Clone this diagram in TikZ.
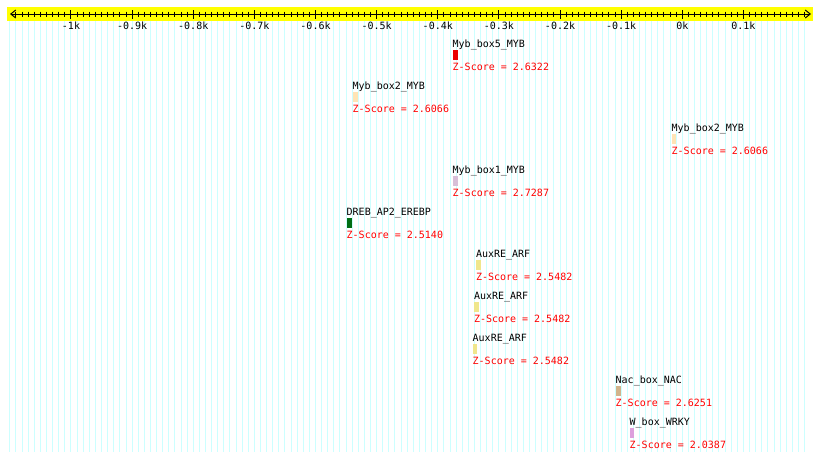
\documentclass[tikz,border=0pt]{standalone}
\usepackage{fontspec}
\setmonofont{DejaVu Sans Mono}
\usetikzlibrary{arrows.meta}
\definecolor{gridc}{RGB}{204,255,255}
\definecolor{axisbg}{RGB}{255,255,0}
\definecolor{zred}{RGB}{255,0,0}
\definecolor{cRed}{RGB}{235,0,0}
\definecolor{cPeach}{RGB}{255,228,181}
\definecolor{cThistle}{RGB}{216,191,216}
\definecolor{cDGreen}{RGB}{0,110,20}
\definecolor{cKhaki}{RGB}{240,230,140}
\definecolor{cTan}{RGB}{210,180,140}
\definecolor{cPlum}{RGB}{221,160,221}
\begin{document}
\begin{tikzpicture}[x=1pt,y=-1pt,
  txt/.style={font=\ttfamily\fontsize{10}{12}\selectfont, inner sep=0pt, outer sep=0pt},
  lbl/.style={txt, text=black, anchor=base west},
  zsc/.style={txt, text=zred, anchor=base west},
  ticklbl/.style={txt, text=black, anchor=base},
  motif/.style={fill=#1, draw=none, inner sep=0pt, minimum height=10.3pt, anchor=north west},
  gridline/.style={draw=gridc, line width=1pt},
  axisline/.style={line width=1pt, {Straight Barb[length=5pt,width=8pt]}-{Straight Barb[length=5pt,width=8pt]}},
  minortick/.style={line width=1pt},
  majortick/.style={line width=1pt}
]
\useasboundingbox (0,0) rectangle (820,461);
\fill[white] (0,0) rectangle (820,461);
% grid
\foreach \k in {-110,...,20}
  \draw[gridline] ({682.3+6.113*\k},21) -- ({682.3+6.113*\k},452);
% axis band
\fill[axisbg] (7,7) rectangle (813,21);
\coordinate (axL) at (10,14);
\coordinate (axR) at (811,14);
\draw[axisline] (axL) -- (axR);
\foreach \k in {-109,...,20}
  \draw[minortick] ({682.3+6.113*\k},11.5) -- ++(0,5);
\foreach \k in {-100,-90,...,10}
  \draw[majortick] ({682.3+6.113*\k},10) -- ++(0,8.5);
\foreach \k/\t [count=\n] in {-100/-1k,-90/-0.9k,-80/-0.8k,-70/-0.7k,-60/-0.6k,-50/-0.5k,-40/-0.4k,-30/-0.3k,-20/-0.2k,-10/-0.1k,0/0k,10/0.1k}
  \node[ticklbl] (tick\n) at ({682.3+6.113*\k},29) {\t};
% motifs
\foreach \x/\T/\name/\col/\w/\z [count=\i] in {
  452.7/40/Myb\_box5\_MYB/cRed/5.3/2.6322,
  352.7/82/Myb\_box2\_MYB/cPeach/4.7/2.6066,
  671.7/124/Myb\_box2\_MYB/cPeach/4.5/2.6066,
  452.7/166/Myb\_box1\_MYB/cThistle/5/2.7287,
  346.7/208/DREB\_AP2\_EREBP/cDGreen/5.5/2.5140,
  476/250/AuxRE\_ARF/cKhaki/5/2.5482,
  474/292/AuxRE\_ARF/cKhaki/5/2.5482,
  472.7/334/AuxRE\_ARF/cKhaki/4.5/2.5482,
  615.7/376/Nac\_box\_NAC/cTan/5/2.6251,
  629.7/418/W\_box\_WRKY/cPlum/4/2.0387}
{
  \node[lbl] (m\i-l) at (\x,\T+7) {\name};
  \node[motif=\col, minimum width=\w pt] (m\i-b) at (\x,\T+9.3) {};
  \node[zsc] (m\i-z) at (\x,\T+30) {Z-Score = \z};
}
\end{tikzpicture}
\end{document}
